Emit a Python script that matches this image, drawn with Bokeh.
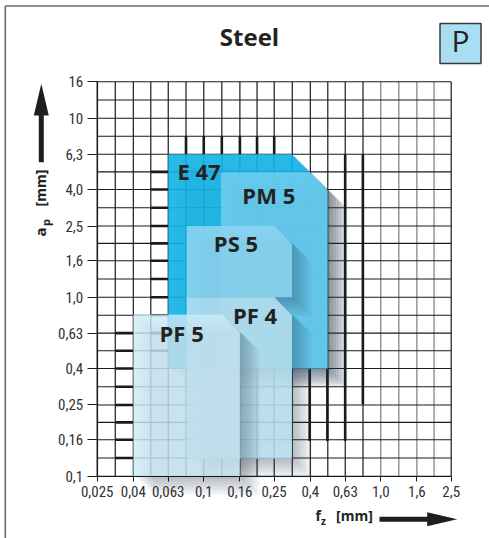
import numpy as np
from bokeh.plotting import figure
from bokeh.models import FixedTicker, Label, BoxAnnotation, PolyAnnotation
from bokeh.core.properties import value
from bokeh.embed import file_html
from bokeh.resources import INLINE

# ---------------- data ----------------
x_ticks = [0.025, 0.04, 0.063, 0.1, 0.16, 0.25, 0.4, 0.63, 1.0, 1.6, 2.5]
x_tick_labels = ["0,025", "0,04", "0,063", "0,1", "0,16", "0,25", "0,4", "0,63", "1,0", "1,6", "2,5"]
y_ticks = [0.1, 0.16, 0.25, 0.4, 0.63, 1.0, 1.6, 2.5, 4.0, 6.3, 10.0, 16.0]
y_tick_labels = ["0,1", "0,16", "0,25", "0,4", "0,63", "1,0", "1,6", "2,5", "4,0", "6,3", "10", "16"]

grades = ["E 47", "PM 5", "PS 5", "PF 4", "PF 5"]
fz_min = [0.063, 0.125, 0.08, 0.08, 0.04]
fz_max = [0.5, 0.5, 0.315, 0.315, 0.16]
ap_min = [0.4, 0.4, 1.0, 0.125, 0.1]
ap_max = [6.3, 5.0, 2.5, 1.0, 0.8]
label_fz = [0.094, 0.233, 0.152, 0.195, 0.075]
label_ap = [5.10, 3.75, 2.00, 0.80, 0.629]

# ---------------- style / layout ----------------
W, H = 489, 538
GX0, GX1 = 96.7, 450.7      # pixel columns of the first / last x tick
GY0, GY1 = 475.7, 81.3      # pixel rows of the first / last y tick
box_fill = ["#12b4e5", "#6ccef0", "#8cd5f1", "#bbe4f5", "#ccebf8"]
box_alpha = [0.9, 0.88, 0.88, 0.85, 0.8]
chamfer = [0.2, 0.1, 0.1, 0.1, 0.1]
left_band = [0, 4]
top_band = [0]
TXT = "#222222"
GRID = "#1a1a1a"
GRID_FAR = "#7d7d7d"
TICK_FONT = "Roboto Condensed"
LBL_FONT = "Open Sans"
BASE = 0.45   # em offset so that the rendered baseline lands where wanted

# ranges chosen so that the tick span lands on the wanted pixels of a full-canvas frame
lx0, lx1 = np.log10(x_ticks[0]), np.log10(x_ticks[-1])
ly0, ly1 = np.log10(y_ticks[0]), np.log10(y_ticks[-1])
ppx = (GX1 - GX0) / (lx1 - lx0)
ppy = (GY0 - GY1) / (ly1 - ly0)
xr = (10 ** (lx0 - GX0 / ppx), 10 ** (lx1 + (W - GX1) / ppx))
yr = (10 ** (ly0 - (H - GY0) / ppy), 10 ** (ly1 + GY1 / ppy))

p = figure(x_axis_type="log", y_axis_type="log", x_range=xr, y_range=yr,
           width=W, height=H, min_border=0,
           min_border_left=0, min_border_right=0, min_border_top=0, min_border_bottom=0,
           output_backend="svg", toolbar_location=None,
           background_fill_color="white", border_fill_color="white")
p.title.visible = False
p.outline_line_color = None
p.xgrid.visible = False
p.ygrid.visible = False

# axes drawn at the tick span (fixed location -> no side panel)
p.xaxis.fixed_location = y_ticks[0]
p.yaxis.fixed_location = x_ticks[0]
p.xaxis.bounds = (x_ticks[0], x_ticks[-1])
p.yaxis.bounds = (y_ticks[0], y_ticks[-1])
p.xaxis.ticker = FixedTicker(ticks=x_ticks)
p.yaxis.ticker = FixedTicker(ticks=y_ticks)
p.xaxis.major_label_overrides = {float(t): s for t, s in zip(x_ticks, x_tick_labels)}
p.yaxis.major_label_overrides = {float(t): s for t, s in zip(y_ticks, y_tick_labels)}
for ax in (p.xaxis, p.yaxis):
    ax.axis_line_color = GRID
    ax.axis_line_width = 1.2
    ax.major_tick_line_color = GRID
    ax.major_tick_in = 0
    ax.minor_tick_line_color = None
    ax.major_label_text_font = TICK_FONT
    ax.major_label_text_font_size = "15px"
    ax.major_label_text_color = "#333333"
p.xaxis.major_tick_out = 5
p.xaxis.major_label_standoff = 5
p.yaxis.major_tick_out = 10
p.yaxis.major_label_standoff = 4

# grid (major + intermediate lines), limited to the tick span
x_minor = [float(np.sqrt(a * b)) for a, b in zip(x_ticks[:-1], x_ticks[1:])]
y_minor = [float(np.sqrt(a * b)) for a, b in zip(y_ticks[:-1], y_ticks[1:])]
gx = sorted(x_ticks + x_minor)
gy = sorted(y_ticks + y_minor)
gx_col = [GRID_FAR if (v > 0.9 and v < x_ticks[-1] * 0.99) else GRID for v in gx]
p.segment(x0=gx, y0=[y_ticks[0]] * len(gx), x1=gx, y1=[y_ticks[-1]] * len(gx),
          line_color=gx_col, line_width=1.2)
p.segment(x0=[x_ticks[0]] * len(gy), y0=gy, x1=[x_ticks[-1]] * len(gy), y1=gy,
          line_color=GRID, line_width=1.1)

# darkened grid lines in the cells next to the boxes (3-D shadow effect)
step = 10 ** 0.1


def inside(vals, lo, hi):
    return [v for v in vals if lo * 1.02 < v < hi / 1.02]


tx0, ty0, tx1, ty1 = [], [], [], []
for i in left_band:
    for v in inside(gy, ap_min[i], ap_max[i]):
        tx0.append(fz_min[i] / step); tx1.append(fz_min[i]); ty0.append(v); ty1.append(v)
for i in top_band:
    for v in inside(gx, fz_min[i], fz_max[i] / 10 ** chamfer[i]):
        tx0.append(v); tx1.append(v); ty0.append(ap_max[i]); ty1.append(ap_max[i] * step)
# right-hand side of the stack
for xv, ylo in ((fz_max[0] * step, ap_min[3] * step), (fz_max[0] * step ** 2, ap_min[0] / step ** 2)):
    tx0.append(xv); tx1.append(xv); ty0.append(ap_max[0]); ty1.append(ylo)
for xv in (fz_max[3] * step, fz_max[3] * step ** 2):
    tx0.append(xv); tx1.append(xv); ty0.append(ap_min[1]); ty1.append(ap_min[3] * step)
p.segment(x0=tx0, y0=ty0, x1=tx1, y1=ty1, line_color=GRID, line_width=2.6)


def poly(i, dx=0.0, dy=0.0):
    k = 10 ** chamfer[i]
    fx, fy = 10 ** dx, 10 ** (-dy)
    x0, x1, y0, y1 = fz_min[i], fz_max[i], ap_min[i], ap_max[i]
    xs = [x0, x1 / k, x1, x1, x0]
    ys = [y1, y1, y1 / k, y0, y0]
    return [x * fx for x in xs], [y * fy for y in ys]


for i in range(len(grades)):
    for k in range(1, 8):
        sxs, sys_ = poly(i, 0.016 * k, 0.015 * k)
        p.patch(sxs, sys_, fill_color="#2c3e4a", fill_alpha=0.05, line_color=None)
    bx, by = poly(i)
    p.patch(bx, by, fill_color=box_fill[i], fill_alpha=box_alpha[i], line_color=None)

p.text(x=label_fz, y=label_ap, text=grades, text_font=value(LBL_FONT),
       text_font_style="bold", text_font_size="22px", text_color=TXT,
       text_align="center", text_baseline="alphabetic")


# ---------------- decorations (screen units, frame == canvas) ----------------
def cy(Y, fs=0.0):
    return H - (Y - BASE * fs)


p.add_layout(BoxAnnotation(left=4.8, right=W + 50, top=cy(5.5), bottom=-50,
                           left_units="screen", right_units="screen",
                           top_units="screen", bottom_units="screen",
                           fill_alpha=0, line_color="#6b6b6b", line_width=1.6,
                           line_alpha=1, line_dash="solid"))

p.add_layout(BoxAnnotation(left=439.5, right=480.5, top=cy(23), bottom=cy(63),
                           left_units="screen", right_units="screen",
                           top_units="screen", bottom_units="screen",
                           fill_color="#a9def2", fill_alpha=1, line_color="#3a3a3a",
                           line_width=1.5, line_alpha=1, line_dash="solid"))
p.add_layout(Label(x=460, y=cy(53.3, 30), x_units="screen", y_units="screen", text="P",
                   text_font=LBL_FONT, text_font_size="30px", text_color=TXT,
                   text_align="center", text_baseline="alphabetic"))

p.add_layout(Label(x=249, y=cy(47, 24), x_units="screen", y_units="screen", text="Steel",
                   text_font=LBL_FONT, text_font_style="bold", text_font_size="24px",
                   text_color=TXT, text_align="center", text_baseline="alphabetic"))

# arrows
up_x = [40.8, 48.3, 43.3, 43.3, 38.3, 38.3, 33.3]
up_y = [83.3, 115, 115, 161.7, 161.7, 115, 115]
p.add_layout(PolyAnnotation(xs=up_x, ys=[cy(v) for v in up_y],
                            xs_units="screen", ys_units="screen",
                            fill_color="#1e1e1e", fill_alpha=1, line_color=None))
r_x = [456.7, 426.7, 426.7, 379, 379, 426.7, 426.7]
r_y = [518.7, 511.7, 516.2, 516.2, 521.2, 521.2, 525.7]
p.add_layout(PolyAnnotation(xs=r_x, ys=[cy(v) for v in r_y],
                            xs_units="screen", ys_units="screen",
                            fill_color="#1e1e1e", fill_alpha=1, line_color=None))

# axis titles
p.add_layout(Label(x=315, y=cy(521.5, 14), x_units="screen", y_units="screen", text="f",
                   text_font=LBL_FONT, text_font_style="bold", text_font_size="14px",
                   text_color=TXT, text_align="left", text_baseline="alphabetic"))
p.add_layout(Label(x=320.5, y=cy(524.5, 10), x_units="screen", y_units="screen", text="z",
                   text_font=LBL_FONT, text_font_style="bold", text_font_size="10px",
                   text_color=TXT, text_align="left", text_baseline="alphabetic"))
p.add_layout(Label(x=335.5, y=cy(521.5, 14), x_units="screen", y_units="screen", text="[mm]",
                   text_font=LBL_FONT, text_font_style="bold", text_font_size="14px",
                   text_color=TXT, text_align="left", text_baseline="alphabetic"))

p.add_layout(Label(x=46.7 - BASE * 15, y=cy(236), x_units="screen", y_units="screen", text="a",
                   angle=np.pi / 2, text_font=LBL_FONT, text_font_style="bold",
                   text_font_size="15px", text_color=TXT, text_align="left",
                   text_baseline="alphabetic"))
p.add_layout(Label(x=50 - BASE * 11, y=cy(225.5), x_units="screen", y_units="screen", text="p",
                   angle=np.pi / 2, text_font=LBL_FONT, text_font_style="bold",
                   text_font_size="11px", text_color=TXT, text_align="left",
                   text_baseline="alphabetic"))
p.add_layout(Label(x=46.7 - BASE * 15, y=cy(206), x_units="screen", y_units="screen", text="[mm]",
                   angle=np.pi / 2, text_font=LBL_FONT, text_font_style="bold",
                   text_font_size="14px", text_color=TXT, text_align="left",
                   text_baseline="alphabetic"))

open("out.html", "w").write(file_html(p, INLINE))
